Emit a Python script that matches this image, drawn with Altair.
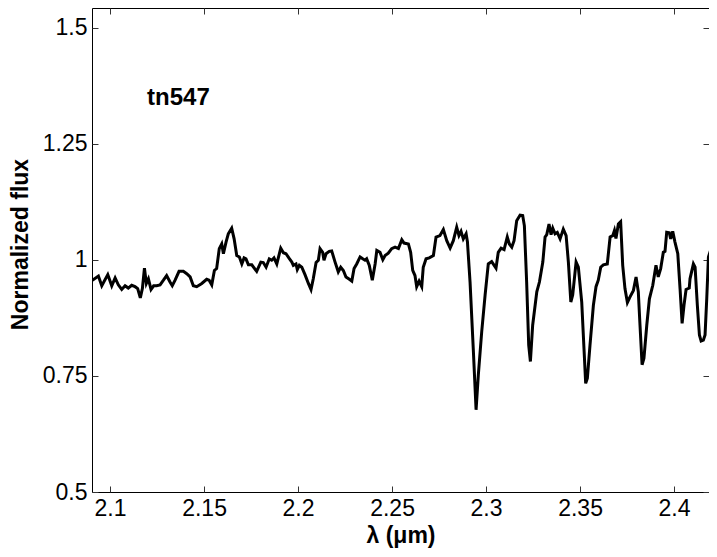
import altair as alt
import pandas as pd

wavelength = [
    2.0906, 2.0938, 2.0956, 2.0988, 2.1009, 2.1027, 2.1044, 2.1062, 2.1080, 2.1097,
    2.1115, 2.1133, 2.1147, 2.1161, 2.1172, 2.1183, 2.1193, 2.1204, 2.1218, 2.1232,
    2.1248, 2.1266, 2.1284, 2.1301, 2.1319, 2.1331, 2.1346, 2.1367, 2.1390, 2.1408,
    2.1426, 2.1443, 2.1461, 2.1488, 2.1514, 2.1527, 2.1541, 2.1555, 2.1567,
    2.1581, 2.1594, 2.1603, 2.1617, 2.1629, 2.1647, 2.1660, 2.1674, 2.1688, 2.1701,
    2.1713, 2.1723, 2.1736, 2.1754, 2.1780, 2.1802, 2.1815, 2.1830, 2.1847, 2.1860,
    2.1872, 2.1887, 2.1908, 2.1922, 2.1936, 2.1951, 2.1967, 2.1975, 2.1989, 2.1996,
    2.2007, 2.2020, 2.2037, 2.2055, 2.2069, 2.2081, 2.2096, 2.2108, 2.2117, 2.2131,
    2.2138, 2.2149, 2.2166, 2.2179, 2.2197, 2.2214, 2.2227, 2.2241, 2.2255, 2.2273,
    2.2286, 2.2298, 2.2312, 2.2330, 2.2344, 2.2356, 2.2365, 2.2379, 2.2395, 2.2410,
    2.2419, 2.2436,
    2.2451, 2.2463, 2.2480, 2.2498, 2.2516, 2.2534, 2.2552, 2.2564, 2.2587, 2.2599,
    2.2610, 2.2622, 2.2631, 2.2644, 2.2658, 2.2666, 2.2681, 2.2698, 2.2720, 2.2734,
    2.2755, 2.2773, 2.2791, 2.2809, 2.2826, 2.2844, 2.2856, 2.2867, 2.2879, 2.2894,
    2.2901, 2.2915, 2.2932, 2.2947, 2.2959, 2.2977, 2.2995, 2.3012, 2.3030, 2.3053,
    2.3065, 2.3080, 2.3096, 2.3113, 2.3124, 2.3137, 2.3149, 2.3163, 2.3181, 2.3195,
    2.3204, 2.3216, 2.3227, 2.3236,
    2.3248, 2.3270, 2.3284, 2.3302, 2.3314, 2.3323, 2.3335, 2.3346, 2.3355, 2.3367,
    2.3379, 2.3394, 2.3411, 2.3426, 2.3438, 2.3451, 2.3461, 2.3479, 2.3491, 2.3509,
    2.3521, 2.3530, 2.3539, 2.3553, 2.3571, 2.3585, 2.3597, 2.3610, 2.3624, 2.3645,
    2.3660, 2.3674, 2.3683, 2.3691, 2.3704, 2.3716, 2.3727, 2.3739, 2.3752, 2.3766,
    2.3784, 2.3798, 2.3810, 2.3819, 2.3830, 2.3840, 2.3855, 2.3869, 2.3887, 2.3904,
    2.3916, 2.3929, 2.3943, 2.3952, 2.3961, 2.3975, 2.3982, 2.3993, 2.4005, 2.4020,
    2.4032, 2.4043, 2.4053, 2.4064, 2.4081, 2.4085, 2.4103, 2.4112, 2.4124, 2.4135,
    2.4144, 2.4156, 2.4165, 2.4174, 2.4183, 2.4197,
]

flux = [
    0.956, 0.965, 0.944, 0.968, 0.944, 0.961, 0.946, 0.936, 0.944, 0.939,
    0.945, 0.942, 0.938, 0.918, 0.938, 0.982, 0.949, 0.959, 0.936, 0.944,
    0.944, 0.946, 0.956, 0.966, 0.952, 0.944, 0.956, 0.975, 0.975, 0.970,
    0.963, 0.944, 0.942, 0.949, 0.958, 0.956, 0.946, 0.977, 0.981,
    1.024, 1.034, 1.013, 1.038, 1.056, 1.068, 1.045, 1.009, 1.006, 0.991,
    1.004, 1.002, 0.989, 0.989, 0.975, 0.995, 0.994, 0.984, 1.002, 0.999,
    1.004, 0.991, 1.025, 1.015, 1.013, 1.004, 0.995, 0.988, 0.991, 0.979,
    0.988, 0.984, 0.968, 0.949, 0.936, 0.959, 0.994, 0.999, 1.024, 1.016,
    0.999, 1.013, 1.018, 1.019, 0.995, 0.974, 0.984, 0.977, 0.963, 0.958,
    0.954, 0.981, 0.991, 1.006, 1.002, 0.999, 1.002, 0.988, 0.956, 0.991,
    1.020, 1.016,
    1.000, 1.009, 1.014, 1.024, 1.027, 1.024, 1.043, 1.036, 1.034, 1.016,
    0.977, 0.966, 0.942, 0.954, 0.942, 0.984, 1.002, 1.004, 1.009, 1.049,
    1.052, 1.065, 1.041, 1.025, 1.041, 1.070, 1.052, 1.061, 1.045, 1.056,
    1.039, 0.952, 0.809, 0.677, 0.752, 0.845, 0.924, 0.991, 0.996, 0.982,
    1.016, 1.025, 1.022, 1.049, 1.034, 1.027, 1.041, 1.084, 1.096, 1.095,
    1.073, 0.952, 0.816, 0.781,
    0.859, 0.931, 0.952, 0.995, 1.049, 1.054, 1.077, 1.054, 1.068, 1.056,
    1.059, 1.045, 1.066, 1.052, 0.995, 0.909, 0.924, 0.995, 0.984, 0.909,
    0.809, 0.734, 0.745, 0.816, 0.902, 0.942, 0.956, 0.984, 0.989, 0.991,
    1.049, 1.052, 1.063, 1.046, 1.077, 1.082, 0.988, 0.938, 0.908, 0.920,
    0.934, 0.963, 0.931, 0.859, 0.774, 0.788, 0.859, 0.916, 0.945, 0.988,
    0.963, 0.981, 1.016, 1.018, 1.059, 1.058, 1.045, 1.061, 1.038, 1.013,
    0.938, 0.863, 0.902, 0.936, 0.939, 0.959, 0.991, 0.984, 0.902, 0.838,
    0.825, 0.827, 0.838, 0.916, 1.006, 1.024,
]

x_ticks = [2.1, 2.15, 2.2, 2.25, 2.3, 2.35, 2.4]
y_ticks = [0.5, 0.75, 1.0, 1.25, 1.5]

label_text = ["tn547"]
label_x = [2.1197]
label_y = [1.333]

W, H = 617, 484
XDOM = [2.0904, 2.4186]
YDOM = [0.5, 1.542]
FONT = "Liberation Sans"
FS = 23

df = pd.DataFrame({"wl": wavelength, "flux": flux})
xs = alt.Scale(domain=XDOM, nice=False, zero=False)
ys = alt.Scale(domain=YDOM, nice=False, zero=False)

main = alt.Chart(df).mark_line(color="black", strokeWidth=3, clip=True).encode(
    x=alt.X("wl:Q", scale=xs, axis=alt.Axis(
        values=x_ticks, labelExpr="'' + datum.value", ticks=False, domain=False, grid=False,
        labelFont=FONT, labelFontSize=FS, labelColor="black", labelPadding=5,
        title="λ (μm)", titleFont=FONT, titleFontSize=FS, titleFontWeight="bold",
        titleColor="black", titleBaseline="alphabetic", titleY=50)),
    y=alt.Y("flux:Q", scale=ys, axis=alt.Axis(
        values=y_ticks, labelExpr="'' + datum.value", ticks=False, domain=False, grid=False,
        labelFont=FONT, labelFontSize=FS, labelColor="black", labelPadding=5,
        title="Normalized flux", titleFont=FONT, titleFontSize=FS,
        titleFontWeight="bold", titleColor="black", titleBaseline="alphabetic",
        titleAlign="center", titleAngle=270, titleX=-65, titleY=236)),
)


def tick_layer(xorient, yorient):
    return alt.Chart(df).mark_line(strokeOpacity=0).encode(
        x=alt.X("wl:Q", scale=xs, axis=alt.Axis(
            orient=xorient, offset=-H, values=x_ticks, labels=False, domain=False,
            grid=False, ticks=True, tickSize=6, tickColor="#333", tickWidth=1, title=None)),
        y=alt.Y("flux:Q", scale=ys, axis=alt.Axis(
            orient=yorient, offset=-W, values=y_ticks, labels=False, domain=False,
            grid=False, ticks=True, tickSize=6, tickColor="#333", tickWidth=1, title=None)),
    )


ticks_a = tick_layer("top", "right")
ticks_b = tick_layer("bottom", "left")

text = alt.Chart(pd.DataFrame({"t": label_text, "x": label_x, "y": label_y})).mark_text(
    font=FONT, fontSize=24, fontWeight="bold", align="left", baseline="alphabetic", color="black"
).encode(
    x=alt.X("x:Q", scale=xs, axis=None),
    y=alt.Y("y:Q", scale=ys, axis=None),
    text="t:N",
)

chart = alt.layer(main, ticks_a, ticks_b, text).resolve_scale(
    x="independent", y="independent"
).properties(
    width=W, height=H,
    padding={"left": 84, "top": 0, "right": 0, "bottom": 57},
    autosize=alt.AutoSizeParams(type="none"),
    background="white",
).configure_view(stroke="black", strokeWidth=1)

chart.save("out.html", embed_options={"renderer": "svg", "actions": False})
